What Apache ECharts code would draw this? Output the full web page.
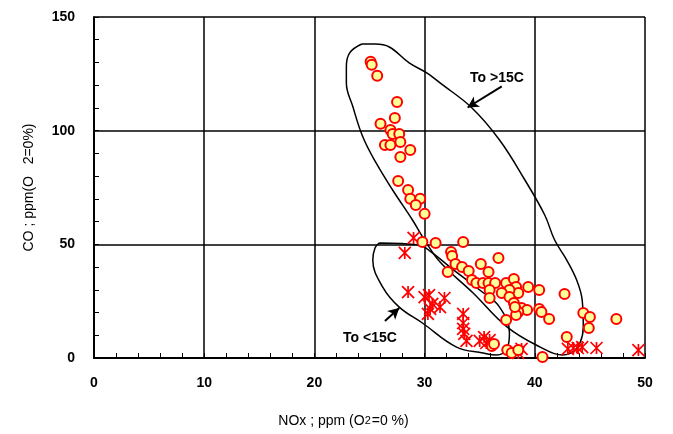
<!DOCTYPE html>
<html>
<head>
<meta charset="utf-8">
<script src="https://cdn.jsdelivr.net/npm/echarts@6/dist/echarts.min.js"></script>
<style>
  html, body { margin: 0; padding: 0; background: #fff; }
  #chart { width: 673px; height: 434px; }
</style>
</head>
<body>
<div id="chart"></div>
<script>
// circles: [NOx, CO]
var hotPoints = [
  [25.1,130.3],[25.2,129.0],[25.7,124.2],[27.5,112.6],[27.3,105.6],[26.0,103.0],
  [26.9,100.3],[27.1,98.5],[27.7,98.5],[26.4,93.7],[26.9,93.7],[27.8,95.0],
  [28.7,91.5],[27.8,88.4],[27.6,77.9],[28.5,73.9],[28.7,70.0],[29.6,70.0],
  [29.2,67.3],[30.0,63.4],[29.8,51.0],[31.0,50.6],[33.5,51.0],[32.4,46.6],
  [32.5,44.9],[32.8,41.4],[33.4,40.0],[34.0,38.3],[35.1,41.4],[36.7,44.0],
  [35.8,37.8],[32.1,37.8],[34.3,34.3],[34.7,33.0],[35.3,33.0],[35.8,33.0],
  [36.4,33.0],[37.4,33.0],[38.1,34.7],[38.3,31.2],[38.5,28.6],[37.7,29.9],
  [39.4,31.2],[40.4,29.9],[37.0,28.6],[35.9,29.9],[35.9,26.4],[37.7,26.8],
  [38.1,24.2],[38.8,22.0],[39.3,21.1],[38.5,20.2],[38.3,18.9],[40.4,21.6],
  [40.6,20.2],[41.3,17.2],[42.7,28.2],[44.4,19.8],[45.0,18.0],[44.9,13.2],
  [42.9,9.2],[47.4,17.2],[37.4,16.7],[37.5,3.5],[37.9,2.2],[38.5,3.5],
  [36.1,5.3],[36.3,6.2],[40.7,0.4],[38.2,22.4]
];
// stars
var coldPoints = [
  [29.0,52.8],[28.2,46.2],[28.5,29.0],[30.0,26.8],[30.4,27.7],[30.5,21.6],
  [30.3,19.4],[31.4,22.4],[31.8,26.4],[30.7,23.8],[33.5,19.4],[33.5,15.4],
  [33.5,12.8],[33.6,10.6],[33.8,7.5],[35.0,7.5],[35.4,9.2],[35.6,6.6],
  [35.9,7.9],[38.8,4.0],[38.5,2.2],[43.0,4.0],[43.5,4.4],[43.9,4.4],
  [44.3,4.8],[45.6,4.4],[49.4,3.5]
];
// hand drawn outlines
var hotOutline = [
  [24.3,138.1],[25.5,138.1],[26.8,136.8],[28.6,129.8],[30.2,125.4],[31.4,121.0],
  [34.3,110.0],[36.8,95.9],[39.1,78.3],[40.9,62.9],[41.8,51.9],[42.9,43.1],
  [43.8,34.3],[44.3,25.5],[44.4,13.6],[44.1,6.6],[43.4,2.6],[42.5,1.3],
  [40.5,4.8],[37.5,13.6],[34.4,28.6],[31.4,42.2],[30.0,51.9],[28.9,60.7],
  [27.1,73.9],[25.6,85.8],[24.4,97.2],[23.5,110.4],[22.9,121.0],[22.9,128.0],
  [23.2,134.2],[24.3,138.1]
];
var coldOutline = [
  [25.9,50.6],[29.5,49.7],[30.7,46.2],[32.3,40.0],[35.0,29.9],[36.8,22.4],
  [37.7,11.0],[37.5,4.4],[36.5,1.3],[35.3,2.2],[32.9,4.8],[29.8,15.4],
  [27.7,22.4],[26.2,31.2],[25.3,43.1],[25.5,48.4],[25.9,50.6]
];
var hotArrow = [[37.0,119.5],[33.9,110.2]];
var coldArrow = [[26.4,16.3],[27.7,22.0]];

var starPath = 'path://M5,0L5,10M0,0L10,10M0,10L10,0';

var chart = echarts.init(document.getElementById('chart'));
chart.setOption({
  animation: false,
  backgroundColor: '#fff',
  grid: { left: 94, right: 28, top: 17, bottom: 76 },
  xAxis: {
    type: 'value', min: 0, max: 50, interval: 10,
    name: 'NOx ; ppm (O{s|2}=0 %)',
    nameLocation: 'middle', nameGap: 56,
    nameTextStyle: {
      fontFamily: 'Liberation Sans', fontSize: 14, color: '#000',
      padding: [0, 52, 0, 0],
      rich: { s: { fontSize: 11, fontFamily: 'Liberation Sans', color: '#000', padding: [0, 1, 0, 0] } }
    },
    axisLine: { show: true, onZero: false, lineStyle: { color: '#000', width: 2 } },
    axisTick: { show: true, inside: true, length: 5, lineStyle: { color: '#000', width: 1 } },
    minorTick: { show: true, splitNumber: 5, length: 5, lineStyle: { color: '#000', width: 1 } },
    splitLine: { show: true, lineStyle: { color: '#000', width: 1.5 } },
    axisLabel: { color: '#000', fontWeight: 'bold', fontSize: 14, fontFamily: 'Liberation Sans', margin: 18 }
  },
  yAxis: {
    type: 'value', min: 0, max: 150, interval: 50,
    name: 'CO ; ppm(O   2=0%)',
    nameLocation: 'middle', nameGap: 58,
    nameTextStyle: { fontFamily: 'Liberation Sans', fontSize: 14, color: '#000' },
    axisLine: { show: true, onZero: false, lineStyle: { color: '#000', width: 2 } },
    axisTick: { show: true, inside: true, length: 5, lineStyle: { color: '#000', width: 1 } },
    minorTick: { show: true, splitNumber: 5, length: 5, lineStyle: { color: '#000', width: 1 } },
    splitLine: { show: true, lineStyle: { color: '#000', width: 1.5 } },
    axisLabel: { color: '#000', fontWeight: 'bold', fontSize: 14, fontFamily: 'Liberation Sans', margin: 19 }
  },
  series: [
    {
      type: 'line', data: hotOutline, smooth: 0.4, symbol: 'none',
      lineStyle: { color: '#000', width: 1.5 }, z: 1,
      markLine: {
        silent: true, symbol: ['none', 'arrow'], symbolSize: [9, 11],
        label: { show: false },
        lineStyle: { color: '#000', width: 2, type: 'solid' },
        data: [[{ coord: hotArrow[0] }, { coord: hotArrow[1] }]]
      }
    },
    {
      type: 'line', data: coldOutline, smooth: 0.4, symbol: 'none',
      lineStyle: { color: '#000', width: 1.5 }, z: 1,
      markLine: {
        silent: true, symbol: ['none', 'arrow'], symbolSize: [9, 11],
        label: { show: false },
        lineStyle: { color: '#000', width: 2, type: 'solid' },
        data: [[{ coord: coldArrow[0] }, { coord: coldArrow[1] }]]
      }
    },
    {
      type: 'scatter', data: coldPoints, symbol: starPath, symbolSize: 12,
      itemStyle: { color: 'rgba(0,0,0,0)', borderColor: '#ff0000', borderWidth: 1.7, opacity: 1 },
      z: 3
    },
    {
      type: 'scatter', data: hotPoints, symbol: 'circle', symbolSize: 10,
      itemStyle: { color: '#ffff99', borderColor: '#ff0000', borderWidth: 2, opacity: 1 },
      z: 4
    }
  ],
  graphic: [
    { type: 'text', left: 470, top: 71, style: { text: 'To >15C', font: 'bold 14px "Liberation Sans"', fill: '#000' } },
    { type: 'text', left: 343, top: 331, style: { text: 'To <15C', font: 'bold 14px "Liberation Sans"', fill: '#000' } }
  ]
});
</script>
</body>
</html>
